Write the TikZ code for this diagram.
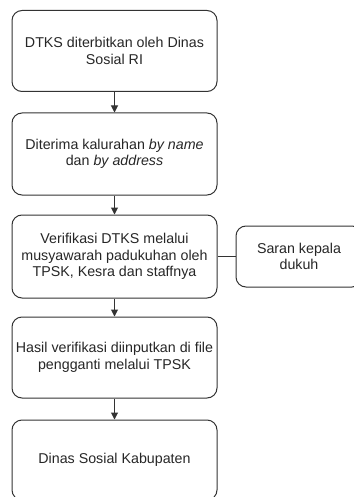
\documentclass[tikz,border=0pt]{standalone}
\usepackage{fontspec}
\setmainfont{Liberation Sans}
\usetikzlibrary{arrows.meta}

\begin{document}
\begin{tikzpicture}[x=1pt,y=-1pt,
    langkah/.style={draw=black!80, line width=1pt, rounded corners=10pt,
        align=center, inner sep=0pt, text=black!85,
        font=\fontsize{14.25}{16.5}\selectfont},
    panah/.style={draw=black!80, line width=1pt, -{Triangle[length=7pt,width=7pt]}}]
    % batas gambar
    \useasboundingbox (0,0) rectangle (353,497);

    % kotak alur utama
    \node[langkah, minimum width=205pt, minimum height=81pt] (dtks) at (114.5,51)
        {DTKS diterbitkan oleh Dinas\\Sosial RI};
    \node[langkah, minimum width=205pt, minimum height=82pt] (terima) at (114.5,154)
        {Diterima kalurahan \textit{by name}\\dan \textit{by address}};
    \node[langkah, minimum width=205pt, minimum height=83pt] (verif) at (114.5,256.5)
        {Verifikasi DTKS melalui\\musyawarah padukuhan oleh\\TPSK, Kesra dan staffnya};
    \node[langkah, minimum width=126pt, minimum height=61pt] (saran) at (299,256.5)
        {Saran kepala\\dukuh};
    \node[langkah, minimum width=205pt, minimum height=81pt] (hasil) at (114.5,357.5)
        {Hasil verifikasi diinputkan di file\\pengganti melalui TPSK};
    \node[langkah, minimum width=205pt, minimum height=80pt] (dinsos) at (114.5,460)
        {Dinas Sosial Kabupaten};

    % penghubung
    \draw[panah] (dtks) -- (terima);
    \draw[panah] (terima) -- (verif);
    \draw[panah] (verif) -- (hasil);
    \draw[panah] (hasil) -- (dinsos);
    \draw[draw=black!80, line width=1pt] (verif) -- (saran);
\end{tikzpicture}
\end{document}
